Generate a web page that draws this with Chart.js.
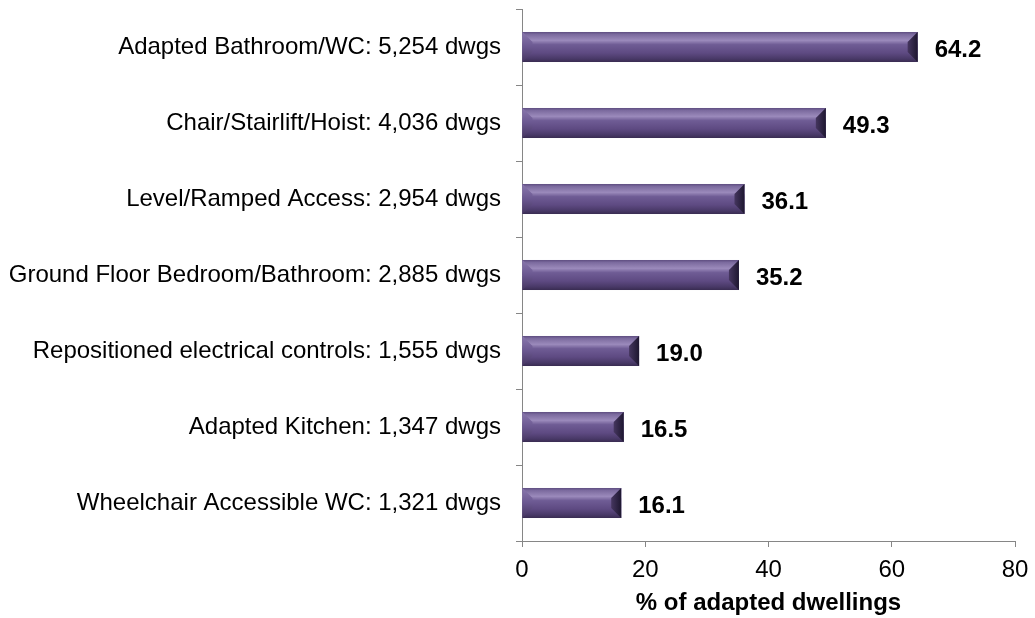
<!DOCTYPE html>
<html>
<head>
<meta charset="utf-8">
<script src="https://cdn.jsdelivr.net/npm/chart.js@4/dist/chart.umd.min.js"></script>
<style>
  body { margin: 0; background: #fff; }
  #wrap { width: 1035px; height: 618px; }
</style>
</head>
<body>
<div id="wrap"><canvas id="chart" width="1035" height="618"></canvas></div>
<script>
var categories = [
    'Adapted Bathroom/WC: 5,254 dwgs',
    'Chair/Stairlift/Hoist: 4,036 dwgs',
    'Level/Ramped Access: 2,954 dwgs',
    'Ground Floor Bedroom/Bathroom: 2,885 dwgs',
    'Repositioned electrical controls: 1,555 dwgs',
    'Adapted Kitchen: 1,347 dwgs',
    'Wheelchair Accessible WC: 1,321 dwgs'
];
var percentValues = [64.2, 49.3, 36.1, 35.2, 19.0, 16.5, 16.1];
var xTicks = [0, 20, 40, 60, 80];
var xTitle = '% of adapted dwellings';

var fontFamily = '"Liberation Sans", Arial, sans-serif';
var axisColor = '#868686';

// draws the bevelled look on top of each bar, using the bar element geometry
var bevelPlugin = {
    id: 'bevel',
    afterDatasetsDraw: function (chart) {
        var ctx = chart.ctx;
        var meta = chart.getDatasetMeta(0);
        meta.data.forEach(function (bar) {
            var p = bar.getProps(['x', 'y', 'base', 'height'], true);
            var x0 = Math.min(p.base, p.x), x1 = Math.max(p.base, p.x);
            var y0 = p.y - p.height / 2, y1 = p.y + p.height / 2;
            var b = 10;

            ctx.save();
            var g = ctx.createLinearGradient(0, y0, 0, y1);
            g.addColorStop(0, '#5e4d80');
            g.addColorStop(0.08, '#7b6a9e');
            g.addColorStop(0.28, '#9b8abb');
            g.addColorStop(0.42, '#6f5c95');
            g.addColorStop(0.7, '#5e4a82');
            g.addColorStop(0.88, '#4a3a69');
            g.addColorStop(1, '#392c52');
            ctx.fillStyle = g;
            ctx.fillRect(x0, y0, x1 - x0, y1 - y0);

            // left chisel
            var gl = ctx.createLinearGradient(0, y0, 0, y1);
            gl.addColorStop(0, '#8a78ae');
            gl.addColorStop(0.5, '#6a5790');
            gl.addColorStop(1, '#45355f');
            ctx.fillStyle = gl;
            ctx.beginPath();
            ctx.moveTo(x0, y0);
            ctx.lineTo(x0 + b, y0 + b);
            ctx.lineTo(x0 + b, y1 - b);
            ctx.lineTo(x0, y1);
            ctx.closePath();
            ctx.fill();

            // right chisel
            var gr = ctx.createLinearGradient(x1 - b, 0, x1, 0);
            gr.addColorStop(0, '#45365f');
            gr.addColorStop(1, '#1e1730');
            ctx.fillStyle = gr;
            ctx.beginPath();
            ctx.moveTo(x1, y0);
            ctx.lineTo(x1 - b, y0 + b);
            ctx.lineTo(x1 - b, y1 - b);
            ctx.lineTo(x1, y1);
            ctx.closePath();
            ctx.fill();
            ctx.restore();
        });
    }
};

// value labels to the right of each bar
var valueLabelPlugin = {
    id: 'valueLabels',
    afterDatasetsDraw: function (chart) {
        var ctx = chart.ctx;
        var meta = chart.getDatasetMeta(0);
        ctx.save();
        ctx.font = 'bold 24px ' + fontFamily;
        ctx.fillStyle = '#000';
        ctx.textAlign = 'left';
        ctx.textBaseline = 'middle';
        meta.data.forEach(function (bar, i) {
            ctx.fillText(percentValues[i].toFixed(1), bar.x + 17, bar.y + 3);
        });
        ctx.restore();
    }
};

new Chart(document.getElementById('chart'), {
    type: 'bar',
    data: {
        labels: categories,
        datasets: [{
            data: percentValues,
            backgroundColor: '#5e4a82',
            borderWidth: 0,
            barPercentage: 0.395,
            categoryPercentage: 1
        }]
    },
    options: {
        indexAxis: 'y',
        responsive: false,
        animation: false,
        layout: { padding: { top: 9, right: 20, bottom: 0, left: 0 } },
        plugins: {
            legend: { display: false },
            tooltip: { enabled: false }
        },
        scales: {
            x: {
                min: 0,
                max: 80,
                afterBuildTicks: function (scale) {
                    scale.ticks = xTicks.map(function (v) { return { value: v }; });
                },
                afterFit: function (scale) {
                    scale.height = 77;
                    scale.paddingLeft = 0;
                    scale.paddingRight = 0;
                },
                border: { color: axisColor, width: 1 },
                grid: {
                    drawOnChartArea: false,
                    drawTicks: true,
                    tickLength: 6,
                    color: axisColor
                },
                ticks: {
                    color: '#000',
                    padding: 9,
                    maxRotation: 0,
                    font: { family: fontFamily, size: 24 }
                },
                title: {
                    display: true,
                    text: xTitle,
                    color: '#000',
                    padding: { top: 0, bottom: 0 },
                    font: { family: fontFamily, size: 24, weight: 'bold' }
                }
            },
            y: {
                afterFit: function (scale) {
                    scale.width = 522;
                    scale.paddingTop = 0;
                    scale.paddingBottom = 0;
                },
                border: { color: axisColor, width: 1 },
                grid: {
                    offset: true,
                    drawOnChartArea: false,
                    drawTicks: true,
                    tickLength: 6,
                    color: axisColor
                },
                ticks: {
                    color: '#000',
                    padding: 15,
                    autoSkip: false,
                    font: { family: fontFamily, size: 24 }
                }
            }
        }
    },
    plugins: [bevelPlugin, valueLabelPlugin]
});
</script>
</body>
</html>
